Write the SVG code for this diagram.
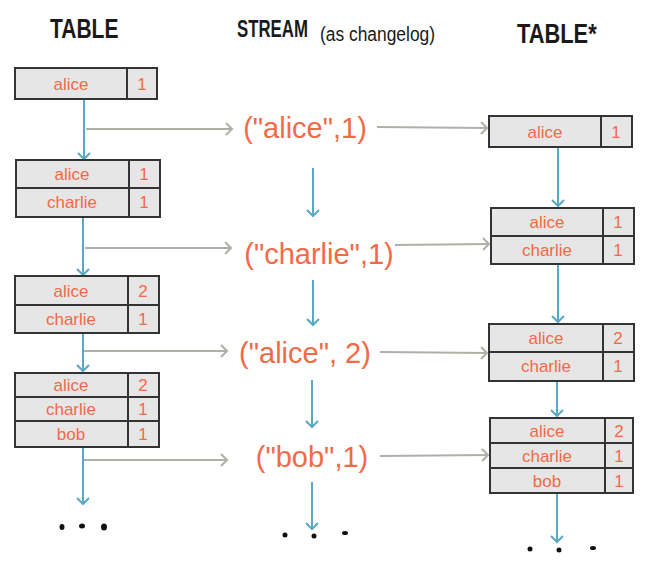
<svg xmlns="http://www.w3.org/2000/svg" width="650" height="564" viewBox="0 0 650 564">
<style>
.bg{fill:#ffffff}
.tbl{fill:#e6e6e6;stroke:#333333;stroke-width:2}
.div{stroke:#333333;stroke-width:2}
.cell{font-family:"Liberation Sans",Arial,sans-serif;font-size:17px;fill:#f26a47;text-anchor:middle}
.ev{font-family:"Liberation Sans",Arial,sans-serif;font-size:29px;fill:#f26a47;text-anchor:middle}
.hdr{font-family:"Liberation Sans",Arial,sans-serif;font-weight:bold;fill:#1a1a1a}
.sub{font-family:"Liberation Sans",Arial,sans-serif;font-weight:normal;fill:#1a1a1a}
.blue{stroke:#5aa9c4;stroke-width:2;fill:none}
.grey{stroke:#b0afa8;stroke-width:2;fill:none}
.dot{fill:#111111}
</style>
<defs>
<marker id="ab" markerWidth="14" markerHeight="14" refX="7" refY="7" orient="auto" markerUnits="userSpaceOnUse">
<path d="M1,1 L7,7 L1,13" fill="none" stroke="#5aa9c4" stroke-width="2"/>
</marker>
<marker id="ag" markerWidth="14" markerHeight="14" refX="7" refY="7" orient="auto" markerUnits="userSpaceOnUse">
<path d="M1,1 L7,7 L1,13" fill="none" stroke="#b0afa8" stroke-width="2"/>
</marker>
</defs>
<rect class="bg" x="0" y="0" width="650" height="564"/>

<g id="headers">
<text class="hdr" transform="translate(50,38) scale(0.75,1)" font-size="28">TABLE</text>
<text class="hdr" transform="translate(237,37) scale(0.7,1)" font-size="24">STREAM</text>
<text class="sub" transform="translate(320,41) scale(0.87,1)" font-size="20">(as changelog)</text>
<text class="hdr" transform="translate(517,43) scale(0.78,1)" font-size="28">TABLE*</text>
</g>

<g id="connectors">
<line class="blue" x1="84" y1="99" x2="84" y2="159" marker-end="url(#ab)"/>
<line class="blue" x1="83" y1="217" x2="83" y2="275" marker-end="url(#ab)"/>
<line class="blue" x1="83" y1="333" x2="83" y2="371" marker-end="url(#ab)"/>
<line class="blue" x1="83" y1="447" x2="83" y2="504" marker-end="url(#ab)"/>
<line class="blue" x1="313" y1="168" x2="313" y2="216" marker-end="url(#ab)"/>
<line class="blue" x1="313" y1="280" x2="313" y2="325" marker-end="url(#ab)"/>
<line class="blue" x1="312" y1="380" x2="312" y2="427" marker-end="url(#ab)"/>
<line class="blue" x1="312" y1="482" x2="312" y2="529" marker-end="url(#ab)"/>
<line class="blue" x1="558" y1="147" x2="558" y2="206" marker-end="url(#ab)"/>
<line class="blue" x1="558" y1="264" x2="558" y2="322" marker-end="url(#ab)"/>
<line class="blue" x1="557" y1="381" x2="557" y2="416" marker-end="url(#ab)"/>
<line class="blue" x1="557" y1="493" x2="557" y2="542" marker-end="url(#ab)"/>
<line class="grey" x1="86" y1="129" x2="232" y2="129" marker-end="url(#ag)"/>
<line class="grey" x1="85" y1="248" x2="231" y2="248" marker-end="url(#ag)"/>
<line class="grey" x1="84" y1="351" x2="227" y2="351" marker-end="url(#ag)"/>
<line class="grey" x1="84" y1="460" x2="227" y2="460" marker-end="url(#ag)"/>
<line class="grey" x1="377" y1="127" x2="487" y2="128" marker-end="url(#ag)"/>
<line class="grey" x1="395" y1="245" x2="489" y2="244" marker-end="url(#ag)"/>
<line class="grey" x1="380" y1="352" x2="487" y2="353" marker-end="url(#ag)"/>
<line class="grey" x1="380" y1="456" x2="488" y2="455" marker-end="url(#ag)"/>
</g>

<g id="t1">
<rect class="tbl" x="15" y="68" width="142" height="31"/>
<line class="div" x1="127" y1="68" x2="127" y2="99"/>
<text class="cell" x="71" y="90">alice</text><text class="cell" x="142" y="90">1</text>
</g>
<g id="t2">
<rect class="tbl" x="16" y="160" width="144" height="57"/>
<line class="div" x1="16" y1="188" x2="160" y2="188"/>
<line class="div" x1="129" y1="160" x2="129" y2="217"/>
<text class="cell" x="72" y="180">alice</text><text class="cell" x="144" y="180">1</text>
<text class="cell" x="72" y="208">charlie</text><text class="cell" x="144" y="208">1</text>
</g>
<g id="t3">
<rect class="tbl" x="15" y="276" width="144" height="57"/>
<line class="div" x1="15" y1="305" x2="159" y2="305"/>
<line class="div" x1="128" y1="276" x2="128" y2="333"/>
<text class="cell" x="71" y="297">alice</text><text class="cell" x="143" y="297">2</text>
<text class="cell" x="71" y="325">charlie</text><text class="cell" x="143" y="325">1</text>
</g>
<g id="t4">
<rect class="tbl" x="15" y="373" width="144" height="74"/>
<line class="div" x1="15" y1="397" x2="159" y2="397"/>
<line class="div" x1="15" y1="421" x2="159" y2="421"/>
<line class="div" x1="128" y1="373" x2="128" y2="447"/>
<text class="cell" x="71" y="391">alice</text><text class="cell" x="143" y="391">2</text>
<text class="cell" x="71" y="415">charlie</text><text class="cell" x="143" y="415">1</text>
<text class="cell" x="71" y="440">bob</text><text class="cell" x="143" y="440">1</text>
</g>

<g id="e1"><text class="ev" x="305" y="138">("alice",1)</text></g>
<g id="e2"><text class="ev" x="319" y="264">("charlie",1)</text></g>
<g id="e3"><text class="ev" x="305" y="363">("alice", 2)</text></g>
<g id="e4"><text class="ev" x="312" y="467">("bob",1)</text></g>

<g id="r1">
<rect class="tbl" x="489" y="116" width="143" height="31"/>
<line class="div" x1="601" y1="116" x2="601" y2="147"/>
<text class="cell" x="545" y="138">alice</text><text class="cell" x="616" y="138">1</text>
</g>
<g id="r2">
<rect class="tbl" x="491" y="208" width="143" height="56"/>
<line class="div" x1="491" y1="236" x2="634" y2="236"/>
<line class="div" x1="603" y1="208" x2="603" y2="264"/>
<text class="cell" x="547" y="228">alice</text><text class="cell" x="618" y="228">1</text>
<text class="cell" x="547" y="256">charlie</text><text class="cell" x="618" y="256">1</text>
</g>
<g id="r3">
<rect class="tbl" x="489" y="324" width="145" height="57"/>
<line class="div" x1="489" y1="352" x2="634" y2="352"/>
<line class="div" x1="603" y1="324" x2="603" y2="381"/>
<text class="cell" x="546" y="344">alice</text><text class="cell" x="618" y="344">2</text>
<text class="cell" x="546" y="372">charlie</text><text class="cell" x="618" y="372">1</text>
</g>
<g id="r4">
<rect class="tbl" x="490" y="418" width="143" height="75"/>
<line class="div" x1="490" y1="443" x2="633" y2="443"/>
<line class="div" x1="490" y1="468" x2="633" y2="468"/>
<line class="div" x1="605" y1="418" x2="605" y2="493"/>
<text class="cell" x="547" y="437">alice</text><text class="cell" x="619" y="437">2</text>
<text class="cell" x="547" y="462">charlie</text><text class="cell" x="619" y="462">1</text>
<text class="cell" x="547" y="487">bob</text><text class="cell" x="619" y="487">1</text>
</g>

<g id="dots-left">
<ellipse class="dot" cx="62" cy="527" rx="2.5" ry="3"/>
<ellipse class="dot" cx="82" cy="526" rx="3" ry="2.5"/>
<ellipse class="dot" cx="104" cy="527" rx="3" ry="3.5"/>
</g>
<g id="dots-middle">
<ellipse class="dot" cx="285" cy="535" rx="2.5" ry="2.5"/>
<ellipse class="dot" cx="314" cy="536" rx="2.5" ry="2.5"/>
<ellipse class="dot" cx="345" cy="533" rx="3" ry="2"/>
</g>
<g id="dots-right">
<ellipse class="dot" cx="530" cy="549" rx="2.5" ry="2.5"/>
<ellipse class="dot" cx="559" cy="550" rx="2.5" ry="2.5"/>
<ellipse class="dot" cx="593" cy="548" rx="3" ry="2"/>
</g>
</svg>
